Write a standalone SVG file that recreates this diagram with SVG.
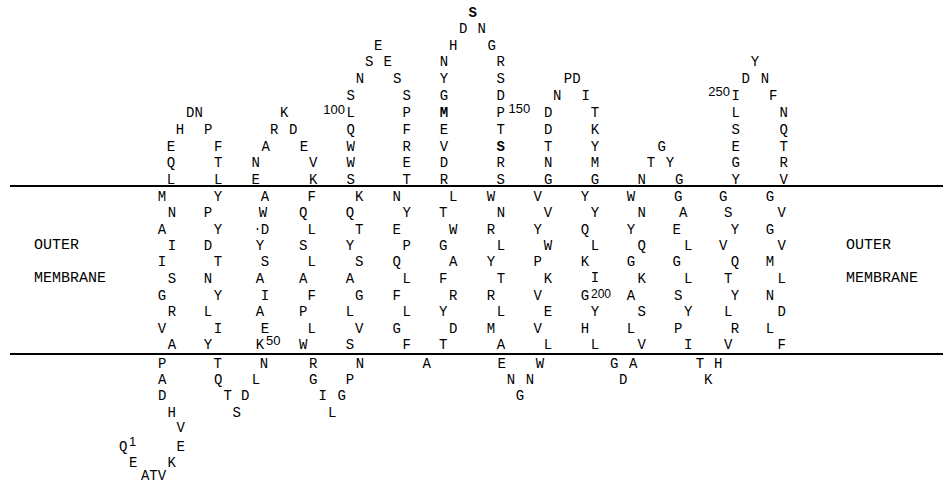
<svg xmlns="http://www.w3.org/2000/svg" width="943" height="484" viewBox="0 0 943 484">
<style>
text{font-family:"Liberation Mono","DejaVu Sans Mono",monospace;font-size:14px;fill:#000;text-anchor:middle}
.b{font-weight:bold}
.n{font-family:"Liberation Sans",Arial,sans-serif;font-size:13px;text-anchor:start}
.ne{font-family:"Liberation Sans",Arial,sans-serif;font-size:13px;text-anchor:end}
.l{font-size:15px;text-anchor:start}
.mem{stroke:#000;stroke-width:2;fill:none}
</style>
<rect width="943" height="484" fill="#fff"/>
<g id="membrane">
<line class="mem" x1="10" y1="186" x2="943" y2="186"/>
<line class="mem" x1="10" y1="354" x2="943" y2="354"/>
</g>
<g id="labels">
<text class="l" x="34" y="248.5">OUTER</text>
<text class="l" x="34" y="282">MEMBRANE</text>
<text class="l" x="846" y="248.5">OUTER</text>
<text class="l" x="846" y="282">MEMBRANE</text>
</g>
<g id="loop1">
<text x="171" y="183.5">L</text><text x="171" y="167">Q</text><text x="171" y="150.5">E</text><text x="180" y="134">H</text><text x="194.5" y="117">DN</text><text x="208.3" y="134">P</text><text x="218.3" y="150.5">F</text><text x="218.3" y="167">T</text><text x="218.3" y="183.5">L</text>
</g>
<g id="loop2">
<text x="255.7" y="183.5">E</text><text x="255.7" y="167">N</text><text x="265.7" y="150.5">A</text><text x="274.3" y="134">R</text><text x="284.3" y="117">K</text><text x="293.3" y="134">D</text><text x="304" y="150.5">E</text><text x="313.3" y="167">V</text><text x="313.3" y="183.5">K</text>
</g>
<g id="loop3">
<text x="350.7" y="183.5">S</text><text x="350.7" y="167">W</text><text x="350.7" y="150.5">W</text><text x="350.7" y="134">Q</text><text x="350.7" y="117">L</text><text class="ne" x="345" y="113.5">100</text><text x="350.7" y="100">S</text><text x="360" y="82.5">N</text><text x="369.3" y="66">S</text><text x="378.3" y="49.5">E</text><text x="387.7" y="66">E</text><text x="397.3" y="82.5">S</text><text x="406.7" y="100">S</text><text x="406.7" y="117">P</text><text x="406.7" y="134">F</text><text x="406.7" y="150.5">R</text><text x="406.7" y="167">E</text><text x="406.7" y="183.5">T</text>
</g>
<g id="loop4">
<text x="444" y="183.5">R</text><text x="444" y="167">D</text><text x="444" y="150.5">V</text><text x="444" y="134">E</text><text class="b" x="444" y="117">M</text><text x="444" y="100">G</text><text x="444" y="82.5">Y</text><text x="444" y="66">N</text><text x="453.3" y="49.5">H</text><text x="463.3" y="33">D</text><text class="b" x="472.7" y="17">S</text><text x="481.7" y="33">N</text><text x="491.7" y="49.5">G</text><text x="500.7" y="66">R</text><text x="500.7" y="82.5">S</text><text x="500.7" y="100">D</text><text x="500.7" y="117">P</text><text class="n" x="508.5" y="112.5">150</text><text x="500.7" y="134">T</text><text class="b" x="500.7" y="150.5">S</text><text x="500.7" y="167">R</text><text x="500.7" y="183.5">S</text>
</g>
<g id="loop5">
<text x="548.3" y="183.5">G</text><text x="548.3" y="167">N</text><text x="548.3" y="150.5">T</text><text x="548.3" y="134">D</text><text x="548.3" y="117">D</text><text x="557.3" y="100">N</text><text x="572.2" y="82.5">PD</text><text x="585.7" y="100">I</text><text x="595" y="117">T</text><text x="595" y="134">K</text><text x="595" y="150.5">Y</text><text x="595" y="167">M</text><text x="595" y="183.5">G</text>
</g>
<g id="loop6">
<text x="641.7" y="183.5">N</text><text x="651" y="167">T</text><text x="661.7" y="150.5">G</text><text x="670" y="167">Y</text><text x="679.3" y="183.5">G</text>
</g>
<g id="loop7">
<text x="735.7" y="183.5">Y</text><text x="735.7" y="167">G</text><text x="735.7" y="150.5">E</text><text x="735.7" y="134">S</text><text x="735.7" y="117">L</text><text x="735.7" y="100">I</text><text class="ne" x="730" y="96">250</text><text x="745.7" y="82.5">D</text><text x="755" y="66">Y</text><text x="765" y="82.5">N</text><text x="773.3" y="100">F</text><text x="783.7" y="117">N</text><text x="783.7" y="134">Q</text><text x="783.7" y="150.5">T</text><text x="783.7" y="167">R</text><text x="783.7" y="183.5">V</text>
</g>
<g id="strand1">
<text x="162" y="201">M</text><text x="172" y="217">N</text><text x="162" y="233.5">A</text><text x="172" y="250">I</text><text x="162" y="266">I</text><text x="172" y="282.5">S</text><text x="162" y="299.5">G</text><text x="172" y="316">R</text><text x="162" y="332.5">V</text><text x="172" y="349">A</text>
</g>
<g id="strand2">
<text x="218" y="201">Y</text><text x="208" y="217">P</text><text x="218" y="233.5">Y</text><text x="208" y="250">D</text><text x="218" y="266">T</text><text x="208" y="282.5">N</text><text x="218" y="299.5">Y</text><text x="208" y="316">L</text><text x="218" y="332.5">I</text><text x="208" y="349">Y</text>
</g>
<g id="strand3">
<text x="265" y="201">A</text><text x="263" y="217">W</text><circle cx="257.5" cy="229" r="0.9" fill="#000"/><text x="265" y="233.5">D</text><text x="260" y="250">Y</text><text x="265" y="266">S</text><text x="260" y="282.5">A</text><text x="265" y="299.5">I</text><text x="260" y="316">A</text><text x="265" y="332.5">E</text><text x="260" y="349">K</text><text class="n" x="266" y="345">50</text>
</g>
<g id="strand4">
<text x="311.7" y="201">F</text><text x="303.3" y="217">Q</text><text x="311.7" y="233.5">L</text><text x="303.3" y="250">S</text><text x="311.7" y="266">L</text><text x="303.3" y="282.5">A</text><text x="311.7" y="299.5">F</text><text x="303.3" y="316">P</text><text x="311.7" y="332.5">L</text><text x="303.3" y="349">W</text>
</g>
<g id="strand5">
<text x="359.3" y="201">K</text><text x="350" y="217">Q</text><text x="359.3" y="233.5">T</text><text x="350" y="250">Y</text><text x="359.3" y="266">S</text><text x="350" y="282.5">A</text><text x="359.3" y="299.5">G</text><text x="350" y="316">L</text><text x="359.3" y="332.5">V</text><text x="350" y="349">S</text>
</g>
<g id="strand6">
<text x="396.7" y="201">N</text><text x="406.7" y="217">Y</text><text x="396.7" y="233.5">E</text><text x="406.7" y="250">P</text><text x="396.7" y="266">Q</text><text x="406.7" y="282.5">L</text><text x="396.7" y="299.5">F</text><text x="406.7" y="316">L</text><text x="396.7" y="332.5">G</text><text x="406.7" y="349">F</text>
</g>
<g id="strand7">
<text x="453.3" y="201">L</text><text x="443.3" y="217">T</text><text x="453.3" y="233.5">W</text><text x="443.3" y="250">G</text><text x="453.3" y="266">A</text><text x="443.3" y="282.5">F</text><text x="453.3" y="299.5">R</text><text x="443.3" y="316">Y</text><text x="453.3" y="332.5">D</text><text x="443.3" y="349">T</text>
</g>
<g id="strand8">
<text x="491" y="201">W</text><text x="501" y="217">N</text><text x="491" y="233.5">R</text><text x="501" y="250">L</text><text x="491" y="266">Y</text><text x="501" y="282.5">T</text><text x="491" y="299.5">R</text><text x="501" y="316">L</text><text x="491" y="332.5">M</text><text x="501" y="349">A</text>
</g>
<g id="strand9">
<text x="537.7" y="201">V</text><text x="548" y="217">V</text><text x="537.7" y="233.5">Y</text><text x="548" y="250">W</text><text x="537.7" y="266">P</text><text x="548" y="282.5">K</text><text x="537.7" y="299.5">V</text><text x="548" y="316">E</text><text x="537.7" y="332.5">V</text><text x="548" y="349">L</text>
</g>
<g id="strand10">
<text x="585" y="201">Y</text><text x="595" y="217">Y</text><text x="585" y="233.5">Q</text><text x="595" y="250">L</text><text x="585" y="266">K</text><text x="595" y="281.5">I</text><text x="585" y="299.5">G</text><text class="n" x="591" y="297.5" style="font-size:12px">200</text><text x="595" y="316">Y</text><text x="585" y="332.5">H</text><text x="595" y="349">L</text>
</g>
<g id="strand11">
<text x="631" y="201">W</text><text x="641.7" y="217">N</text><text x="631" y="233.5">Y</text><text x="641.7" y="250">Q</text><text x="631" y="266">G</text><text x="641.7" y="282.5">K</text><text x="631" y="299.5">A</text><text x="641.7" y="316">S</text><text x="631" y="332.5">L</text><text x="641.7" y="349">V</text>
</g>
<g id="strand12">
<text x="678.3" y="201">G</text><text x="683.3" y="217">A</text><text x="676.7" y="233.5">E</text><text x="688.3" y="250">L</text><text x="676.7" y="266">G</text><text x="688.3" y="282.5">L</text><text x="678.3" y="299.5">S</text><text x="688.3" y="316">Y</text><text x="678.3" y="332.5">P</text><text x="688.3" y="349">I</text>
</g>
<g id="strand13">
<text x="723.3" y="201">G</text><text x="728.3" y="217">S</text><text x="735" y="233.5">Y</text><text x="723.3" y="250">V</text><text x="735" y="266">Q</text><text x="728.3" y="282.5">T</text><text x="735" y="299.5">Y</text><text x="728.3" y="316">L</text><text x="735" y="332.5">R</text><text x="728.3" y="349">V</text>
</g>
<g id="strand14">
<text x="770" y="201">G</text><text x="781.7" y="217">V</text><text x="770" y="233.5">G</text><text x="781.7" y="250">V</text><text x="770" y="266">M</text><text x="781.7" y="282.5">L</text><text x="770" y="299.5">N</text><text x="781.7" y="316">D</text><text x="770" y="332.5">L</text><text x="781.7" y="349">F</text>
</g>
<g id="nterm">
<text x="162.3" y="367.7">P</text><text x="162.3" y="384.3">A</text><text x="162.3" y="400">D</text><text x="171.7" y="416.7">H</text><text x="180.7" y="432.3">V</text><text x="180.7" y="451">E</text><text x="171.7" y="466.5">K</text><text x="153.5" y="480">ATV</text><text x="133.3" y="466.5">E</text><text x="123.3" y="451">Q</text><text class="n" x="129" y="445.5">1</text>
</g>
<g id="turn1">
<text x="217.7" y="367.7">T</text><text x="218.3" y="384.3">Q</text><text x="227.7" y="400">T</text><text x="236.7" y="416.7">S</text><text x="245.3" y="400">D</text><text x="256" y="384.3">L</text><text x="264" y="367.7">N</text>
</g>
<g id="turn2">
<text x="313.3" y="367.7">R</text><text x="313.3" y="384.3">G</text><text x="322.7" y="400">I</text><text x="332.3" y="416.7">L</text><text x="341.7" y="400">G</text><text x="350" y="384.3">P</text><text x="360" y="367.7">N</text>
</g>
<g id="turn3">
<text x="426.7" y="367.7">A</text>
</g>
<g id="turn4">
<text x="501.7" y="367.7">E</text><text x="511" y="384.3">N</text><text x="520" y="400">G</text><text x="530" y="384.3">N</text><text x="540" y="367.7">W</text>
</g>
<g id="turn5">
<text x="614.3" y="367.7">G</text><text x="623.3" y="384.3">D</text><text x="633.3" y="367.7">A</text>
</g>
<g id="turn6">
<text x="700" y="367.7">T</text><text x="708.3" y="384.3">K</text><text x="718.3" y="367.7">H</text>
</g>
</svg>
